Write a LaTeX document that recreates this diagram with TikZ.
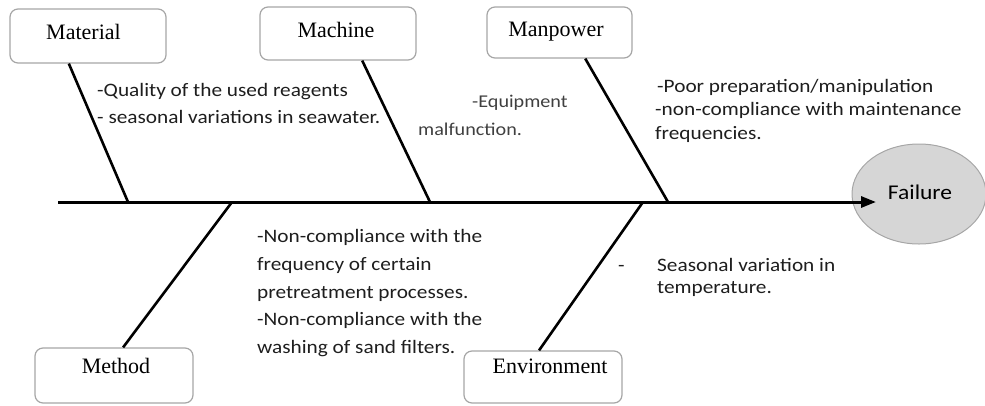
\documentclass[tikz,border=0pt]{standalone}
\usepackage{fontspec}
\newfontfamily\calib[FakeStretch=1.12]{Carlito}
\newfontfamily\tms{Liberation Serif}
\usetikzlibrary{arrows.meta,calc,shapes.geometric}
\definecolor{boxgray}{HTML}{A6A6A6}
\definecolor{ellfill}{HTML}{D6D6D6}
\definecolor{txt}{HTML}{1E1E1E}
\tikzset{
  catbox/.style={draw=boxgray, line width=1.2pt, rounded corners=8pt, fill=white, inner sep=0pt},
  cattext/.style={font=\tms\fontsize{22}{26}\selectfont, anchor=base, inner sep=0pt, text=black},
  cause/.style={font=\calib\fontsize{19}{24}\selectfont, anchor=base west, inner sep=0pt, text=txt},
  causesm/.style={font=\calib\fontsize{18}{22}\selectfont, anchor=base west, inner sep=0pt, text=txt!85},
  bone/.style={line width=2.6pt, black},
  spine/.style={line width=3pt, black, -{Triangle[length=15pt,width=11pt]}}
}
\begin{document}
\begin{tikzpicture}[x=1pt,y=-1pt]
\useasboundingbox (0,0) rectangle (985,405);
% effect
\node[ellipse, draw=boxgray, line width=1pt, fill=ellfill, minimum width=134pt, minimum height=100pt, inner sep=0pt] (fail) at (919,194) {};
\node[font=\calib\fontsize{21}{24}\selectfont, anchor=base, inner sep=0pt] (failt) at (920,199) {Failure};
% spine
\coordinate (tail) at (58,202);
\coordinate (tip) at (876,202);
\draw[spine] (tail) -- (tip);
\coordinate (j1) at (128,202);
\coordinate (j2) at (430,202);
\coordinate (j3) at (668,202);
\coordinate (j4) at (232,202);
\coordinate (j5) at (643,202);
% category boxes
\node[catbox, minimum width=156pt, minimum height=54pt] (matbox) at (88,36) {};
\node[catbox, minimum width=156pt, minimum height=53pt] (macbox) at (338,33.5) {};
\node[catbox, minimum width=145pt, minimum height=51pt] (manbox) at (559.5,32.5) {};
\node[catbox, minimum width=158pt, minimum height=55pt] (metbox) at (114,375.5) {};
\node[catbox, minimum width=158pt, minimum height=52pt] (envbox) at (543,377) {};
\node[cattext] (mat) at (83.5,39) {Material};
\node[cattext] (mac) at (336,37) {Machine};
\node[cattext] (man) at (556,36) {Manpower};
\node[cattext] (met) at (116,373) {Method};
\node[cattext] (env) at (550,373) {Environment};
% bones
\draw[bone] ($(matbox.south west)!0.378!(matbox.south east)$) -- (j1);
\draw[bone] ($(macbox.south west)!0.654!(macbox.south east)$) -- (j2);
\draw[bone] ($(manbox.south west)!0.676!(manbox.south east)$) -- (j3);
\draw[bone] (j4) -- ($(metbox.north west)!0.557!(metbox.north east)$);
\draw[bone] (j5) -- ($(envbox.north west)!0.475!(envbox.north east)$);
% causes
\node[cause] (q1) at (97,96) {-Quality of the used reagents};
\node[cause] (q2) at (97,123) {- seasonal variations in seawater.};
\node[causesm] (e1) at (472,107) {-Equipment};
\node[causesm] (e2) at (418,135) {malfunction.};
\node[cause] (p1) at (657,92) {-Poor preparation/manipulation};
\node[cause] (p2) at (655,115) {-non-compliance with maintenance};
\node[cause] (p3) at (655,139) {frequencies.};
\node[cause] (n1) at (257,242) {-Non-compliance with the};
\node[cause] (n2) at (257,270) {frequency of certain};
\node[cause] (n3) at (257,298) {pretreatment processes.};
\node[cause] (n4) at (257,325) {-Non-compliance with the};
\node[cause] (n5) at (257,353) {washing of sand filters.};
\node[cause] (s0) at (618,271) {-};
\node[cause] (s1) at (657,271) {Seasonal variation in};
\node[cause] (s2) at (657,293) {temperature.};
\end{tikzpicture}
\end{document}
